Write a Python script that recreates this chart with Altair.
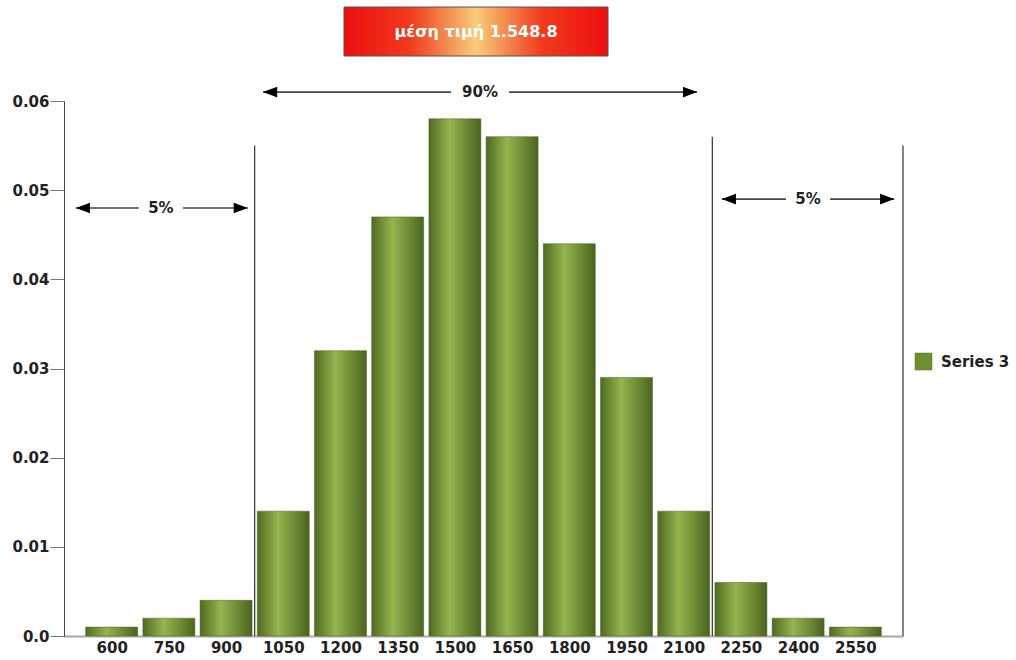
import altair as alt
import pandas as pd

# ---- data ----
bins = [600, 750, 900, 1050, 1200, 1350, 1500, 1650, 1800, 1950, 2100, 2250, 2400, 2550]
probs = [0.001, 0.002, 0.004, 0.014, 0.032, 0.047, 0.058, 0.056, 0.044, 0.029, 0.014, 0.006, 0.002, 0.001]
series_name = "Series 3"
title_text = "μέση τιμή 1.548.8"
y_ticks = [0.0, 0.01, 0.02, 0.03, 0.04, 0.05, 0.06]

cut_x = [975, 2175, 2675]
cut_top = [0.055, 0.056, 0.055]

arrow_labels = ["5%", "90%", "5%"]
arrow_start = [506, 997, 2200]
arrow_end = [957, 2135, 2652]
arrow_mid = [729, 1566, 2426]
arrow_gap = [58, 76, 58]
arrow_y = [0.048, 0.061, 0.049]

FONT = "DejaVu Sans"

bars_df = pd.DataFrame({"x": bins, "y": probs})
cuts_df = pd.DataFrame({"x": cut_x, "y": cut_top, "y0": [0.0] * len(cut_x)})

seg_rows, head_l, head_r, lab_rows = [], [], [], []
for lab, s, e, m, g, yy in zip(arrow_labels, arrow_start, arrow_end, arrow_mid, arrow_gap, arrow_y):
    seg_rows.append({"x": s, "x2": m - g, "y": yy})
    seg_rows.append({"x": m + g, "x2": e, "y": yy})
    head_l.append({"x": s, "y": yy})
    head_r.append({"x": e, "y": yy})
    lab_rows.append({"x": m, "y": yy, "t": lab})
seg_df = pd.DataFrame(seg_rows)
hl_df = pd.DataFrame(head_l)
hr_df = pd.DataFrame(head_r)
lab_df = pd.DataFrame(lab_rows)

xs = alt.Scale(domain=[475, 2675], nice=False, zero=False, padding=0)
ys = alt.Scale(domain=[0, 0.06], nice=False, padding=0)

xaxis = alt.Axis(values=bins, format="d", title=None, grid=False, ticks=False, domainColor="#a8a8a8",
                 domainWidth=2, labelFont=FONT, labelFontWeight="bold", labelFontSize=15,
                 labelColor="#222222", labelPadding=4, labelFlush=False)
yaxis = alt.Axis(values=y_ticks, title=None, grid=False, tickColor="#777777", tickSize=14,
                 domainColor="#444444", labelFont=FONT, labelFontWeight="bold", labelFontSize=15,
                 labelColor="#222222", labelPadding=1,
                 labelExpr="datum.value == 0 ? '0.0' : format(datum.value, '.2f')")

def X(f="x"):
    return alt.X(f"{f}:Q", scale=xs, axis=xaxis)

def Y(f="y"):
    return alt.Y(f"{f}:Q", scale=ys, axis=yaxis)

bar_grad = alt.Gradient(
    gradient="linear", x1=0, x2=1, y1=0, y2=0,
    stops=[alt.GradientStop(color="#4f6a22", offset=0),
           alt.GradientStop(color="#95b54d", offset=0.4),
           alt.GradientStop(color="#4a6420", offset=1)])

bars = alt.Chart(bars_df).mark_bar(width=52, fill=bar_grad, stroke="#4a6420", strokeWidth=0.5).encode(
    x=X(), y=Y())

cuts = alt.Chart(cuts_df).mark_rule(color="#333333", strokeWidth=1.2).encode(
    x=X(), y=Y(), y2="y0:Q")

segs = alt.Chart(seg_df).mark_rule(color="#444444", strokeWidth=1.6).encode(
    x=X(), x2="x2:Q", y=Y())

heads_l = alt.Chart(hl_df).mark_point(shape="M0,0 L1,-0.38 L1,0.38 Z", size=800, filled=True,
                                      color="#000000", opacity=1).encode(x=X(), y=Y())
heads_r = alt.Chart(hr_df).mark_point(shape="M0,0 L-1,-0.38 L-1,0.38 Z", size=800, filled=True,
                                      color="#000000", opacity=1).encode(x=X(), y=Y())
labs = alt.Chart(lab_df).mark_text(font=FONT, fontWeight="bold", fontSize=15, color="#222222",
                                   baseline="middle").encode(x=X(), y=Y(), text="t:N")

title_grad = alt.Gradient(
    gradient="linear", x1=0, x2=1, y1=0, y2=0,
    stops=[alt.GradientStop(color="#ee0f0f", offset=0),
           alt.GradientStop(color="#f03a1c", offset=0.25),
           alt.GradientStop(color="#f8cc7a", offset=0.5),
           alt.GradientStop(color="#f03a1c", offset=0.75),
           alt.GradientStop(color="#ee0f0f", offset=1)])
title_df = pd.DataFrame({"t": [title_text]})
title_box = alt.Chart(title_df).mark_rect(fill=title_grad, stroke="#555555", strokeWidth=1).encode(
    x=alt.value(280), x2=alt.value(544), y=alt.value(-94), y2=alt.value(-45))
title_txt = alt.Chart(title_df).mark_text(font=FONT, fontWeight="bold", fontSize=16, color="#ffffff",
                                          baseline="middle", align="center").encode(
    x=alt.value(412), y=alt.value(-69), text="t:N")

legend_df = pd.DataFrame({"t": [series_name]})
leg_sym = alt.Chart(legend_df).mark_rect(fill="#6f9030", stroke="#55702a", strokeWidth=0.5).encode(
    x=alt.value(851), x2=alt.value(868), y=alt.value(252), y2=alt.value(269))
leg_txt = alt.Chart(legend_df).mark_text(font=FONT, fontWeight="bold", fontSize=15, color="#222222",
                                         baseline="middle", align="left").encode(
    x=alt.value(877), y=alt.value(261), text="t:N")

chart = alt.layer(bars, cuts, segs, heads_l, heads_r, labs, title_box, title_txt, leg_sym, leg_txt).properties(
    width=839, height=535,
    autosize=alt.AutoSizeParams(type="none"),
    padding={"left": 64, "top": 101, "right": 113, "bottom": 24},
    background="white",
).configure_view(stroke=None)

chart.save("out.html", embed_options={"renderer": "svg", "actions": False})
